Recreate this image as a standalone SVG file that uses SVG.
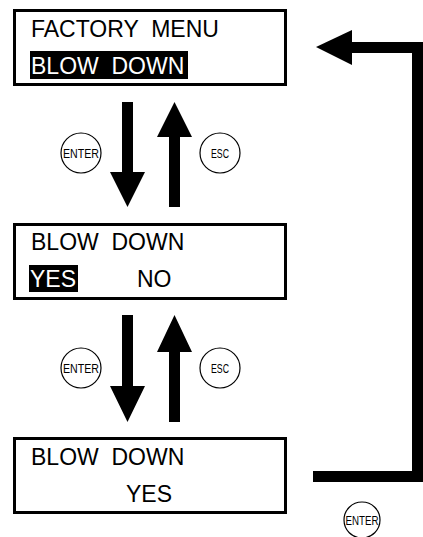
<svg xmlns="http://www.w3.org/2000/svg" width="423" height="537" viewBox="0 0 423 537">
<style>
.box{fill:#fff;stroke:#000;stroke-width:3}
.t{font-family:"Liberation Sans",Arial,sans-serif;font-size:23px;fill:#000;white-space:pre}
.inv{fill:#fff}
.hl{fill:#000}
.btn{fill:#fff;stroke:#000;stroke-width:1.2}
.bt{font-family:"Liberation Sans",Arial,sans-serif;font-size:13px;fill:#000;text-anchor:middle}
.ar{fill:#000}
</style>
<g id="screen1">
<rect class="box" x="14.5" y="10.5" width="271" height="74"/>
<text class="t" x="31" y="37" xml:space="preserve">FACTORY  MENU</text>
<rect class="hl" x="30" y="51" width="158" height="28"/>
<text class="t inv" x="31" y="74" xml:space="preserve">BLOW  DOWN</text>
</g>
<g id="screen2">
<rect class="box" x="14.5" y="224.5" width="271" height="74"/>
<text class="t" x="31" y="250" xml:space="preserve">BLOW  DOWN</text>
<rect class="hl" x="29" y="265" width="49" height="27"/>
<text class="t inv" x="30" y="287">YES</text>
<text class="t" x="137" y="287">NO</text>
</g>
<g id="screen3">
<rect class="box" x="14.5" y="438.5" width="271" height="74"/>
<text class="t" x="31" y="465" xml:space="preserve">BLOW  DOWN</text>
<text class="t" x="126" y="502">YES</text>
</g>
<g id="btn-enter-1"><circle class="btn" cx="81" cy="153" r="20"/><text class="bt" x="81" y="158" textLength="36" lengthAdjust="spacingAndGlyphs">ENTER</text></g>
<g id="btn-esc-1"><circle class="btn" cx="220" cy="153" r="20"/><text class="bt" x="220" y="158" textLength="18" lengthAdjust="spacingAndGlyphs">ESC</text></g>
<g id="btn-enter-2"><circle class="btn" cx="81" cy="368" r="20"/><text class="bt" x="81" y="373" textLength="36" lengthAdjust="spacingAndGlyphs">ENTER</text></g>
<g id="btn-esc-2"><circle class="btn" cx="220" cy="368" r="20"/><text class="bt" x="220" y="373" textLength="18" lengthAdjust="spacingAndGlyphs">ESC</text></g>
<g id="btn-enter-3"><circle class="btn" cx="362" cy="520" r="18"/><text class="bt" x="362" y="525" textLength="33" lengthAdjust="spacingAndGlyphs">ENTER</text></g>
<g id="connectors">
<polygon class="ar" points="122,102 133,102 133,172 145,172 127.5,207 110,172 122,172"/>
<polygon class="ar" points="174.5,102 192,137 180,137 180,207 169,207 169,137 157,137"/>
<polygon class="ar" points="122,315 133,315 133,386 145,386 127.5,422 110,386 122,386"/>
<polygon class="ar" points="174.5,315 192,352 180,352 180,422 169,422 169,352 157,352"/>
<polyline points="313,476.5 417.5,476.5 417.5,47.5 350,47.5" fill="none" stroke="#000" stroke-width="11"/>
<polygon class="ar" points="316,47 352,30 352,65"/>
</g>
</svg>
